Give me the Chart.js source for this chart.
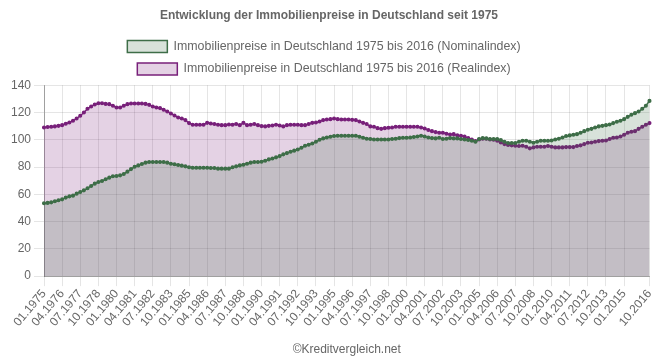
<!DOCTYPE html>
<html>
<head>
<meta charset="utf-8">
<script src="https://cdn.jsdelivr.net/npm/chart.js@4/dist/chart.umd.min.js"></script>
<style>
  html, body { margin: 0; padding: 0; background: #fff; }
  #wrap { width: 658px; height: 356px; }
</style>
</head>
<body>
<div id="wrap"><canvas id="c" width="658" height="356"></canvas></div>
<script>
const titleText = "Entwicklung der Immobilienpreise in Deutschland seit 1975";
const seriesNames = [
  "Immobilienpreise in Deutschland 1975 bis 2016 (Nominalindex)",
  "Immobilienpreise in Deutschland 1975 bis 2016 (Realindex)"
];
const sourceText = "©Kreditvergleich.net";

const startYear = 1975;
const endYear = 2016;
const quarterMonths = ["01", "04", "07", "10"];

const yTicks = [0, 20, 40, 60, 80, 100, 120, 140];

const nominalIndex = [
  53.4,53.7,54.1,54.9,55.6,56.3,57.6,58.5,59.0,60.5,
  61.7,62.9,64.4,66.1,67.8,69.0,69.8,71.0,72.2,73.2,
  73.4,73.9,74.9,76.6,78.5,80.2,81.2,82.2,83.2,83.7,
  83.7,83.7,83.7,83.7,83.2,82.4,82.0,81.5,81.0,80.5,
  79.8,79.5,79.5,79.5,79.5,79.5,79.3,79.3,78.8,78.8,
  78.8,78.8,79.8,80.5,81.2,81.7,82.4,83.2,83.7,83.7,
  83.9,84.6,85.6,86.3,87.1,88.0,89.3,90.2,91.2,92.0,
  92.9,94.1,95.6,96.3,97.3,98.5,100.0,101.0,101.7,102.2,
  102.7,102.9,102.9,102.9,102.9,
  102.9,102.9,102.2,101.5,100.7,100.5,100.2,100.2,100.2,100.2,
  100.2,100.5,100.7,101.2,101.5,101.5,101.7,102.0,102.4,102.9,
  102.4,101.7,101.2,101.0,101.5,100.5,100.7,101.2,101.0,101.0,
  100.5,100.2,99.8,99.3,98.5,100.5,101.2,101.0,100.5,100.5,
  100.5,99.8,98.5,97.6,97.6,97.6,98.5,99.3,99.3,98.5,
  97.8,98.5,99.3,99.3,99.3,99.5,100.2,100.7,101.7,102.7,
  103.2,103.7,104.1,105.1,106.3,107.3,108.0,109.0,109.8,110.2,
  110.7,111.2,112.2,113.2,113.9,115.1,116.8,118.3,119.5,120.7,
  122.7,124.9,128.5
];

const realIndex = [
  109.0,109.3,109.5,109.8,110.2,110.7,111.7,112.7,113.9,115.6,
  117.6,120.0,122.7,124.4,125.9,126.8,126.8,126.3,126.1,124.9,
  123.7,123.7,124.9,126.1,126.6,126.6,126.6,126.6,126.3,125.6,
  124.4,123.7,123.2,122.0,120.7,119.3,117.8,116.3,115.6,114.4,
  112.2,111.0,111.0,111.0,111.0,112.4,111.9,111.5,111.0,110.7,
  110.7,111.2,111.0,111.5,110.7,112.4,110.7,111.0,111.5,110.7,
  110.0,109.8,110.2,110.5,111.0,110.5,109.8,110.7,111.0,111.0,
  111.0,110.7,110.7,111.5,112.4,112.7,113.4,114.4,114.9,115.1,
  115.6,115.1,114.9,114.9,114.9,
  114.6,114.4,113.4,112.4,111.5,109.8,109.5,108.5,108.0,108.5,
  108.8,109.0,109.5,109.5,109.5,109.5,109.5,109.5,109.5,109.0,
  108.3,107.1,106.3,105.6,105.1,105.1,104.4,103.9,104.1,103.2,
  102.9,102.4,101.2,100.2,99.0,100.2,100.7,100.7,100.2,100.0,
  99.3,98.0,96.8,96.1,95.9,95.6,95.4,95.6,94.9,93.7,
  94.4,94.9,94.9,94.9,95.4,94.9,94.4,94.4,94.4,94.6,
  94.6,94.6,95.4,95.9,96.8,97.8,98.0,98.5,99.0,99.3,
  99.5,100.5,101.5,101.7,102.4,103.7,105.1,105.9,106.3,108.0,
  109.5,111.0,112.2
];

// quarter labels "MM.YYYY"
const categories = [];
for (let y = startYear; y <= endYear; y++) {
  for (const m of quarterMonths) categories.push(m + "." + y);
}
const labelEvery = 5;

const SANS = "'Liberation Sans', Arial, sans-serif";

// nudge the legend a little to the left, like the original layout
const legendShift = {
  id: "legendShift",
  afterLayout(chart) {
    if (chart.legend) {
      chart.legend.left -= 5;
      chart.legend.right -= 5;
    }
  }
};

new Chart(document.getElementById("c"), {
  type: "line",
  data: {
    labels: categories,
    datasets: [
      {
        label: seriesNames[0],
        data: nominalIndex,
        borderColor: "rgb(62,110,72)",
        backgroundColor: "rgba(62,110,72,0.2)",
        pointBackgroundColor: "rgb(62,110,72)",
        pointBorderColor: "rgb(62,110,72)",
        borderWidth: 1.5,
        pointRadius: 1.3,
        tension: 0,
        fill: "origin"
      },
      {
        label: seriesNames[1],
        data: realIndex,
        borderColor: "rgb(120,32,122)",
        backgroundColor: "rgba(120,32,122,0.2)",
        pointBackgroundColor: "rgb(120,32,122)",
        pointBorderColor: "rgb(120,32,122)",
        borderWidth: 1.5,
        pointRadius: 1.3,
        tension: 0,
        fill: "origin"
      }
    ]
  },
  plugins: [legendShift],
  options: {
    responsive: false,
    animation: false,
    layout: { padding: 0 },
    plugins: {
      title: {
        display: true,
        text: titleText,
        color: "#666",
        font: { family: SANS, size: 12, weight: "bold" },
        padding: { top: 8, bottom: 8 }
      },
      legend: {
        display: true,
        labels: {
          color: "#666",
          font: { family: SANS, size: 12.4 },
          boxWidth: 40,
          boxHeight: 12,
          padding: 10
        }
      },
      tooltip: { enabled: false }
    },
    scales: {
      x: {
        ticks: {
          autoSkip: false,
          color: "#666",
          font: { family: SANS, size: 12, lineHeight: 0.6 },
          maxRotation: 50,
          minRotation: 50,
          callback: function (val, idx) {
            const last = categories.length - 1;
            if (idx === last) return categories[idx];
            if (idx % labelEvery === 0 && last - idx >= labelEvery) return categories[idx];
            return null;
          }
        },
        grid: { color: "rgba(0,0,0,0.1)", tickLength: 10 },
        border: { color: "rgba(0,0,0,0.3)" },
        title: {
          display: true,
          text: sourceText,
          color: "#666",
          font: { family: SANS, size: 12, lineHeight: 1.0 },
          padding: { top: 14, bottom: 0 }
        }
      },
      y: {
        min: yTicks[0],
        max: yTicks[yTicks.length - 1],
        afterFit: function (scale) { scale.width = 44; },
        ticks: {
          stepSize: yTicks[1] - yTicks[0],
          color: "#666",
          font: { family: SANS, size: 12 },
          padding: 3
        },
        grid: { color: "rgba(0,0,0,0.1)", tickLength: 10 },
        border: { color: "rgba(0,0,0,0.3)" }
      }
    }
  }
});
</script>
</body>
</html>
